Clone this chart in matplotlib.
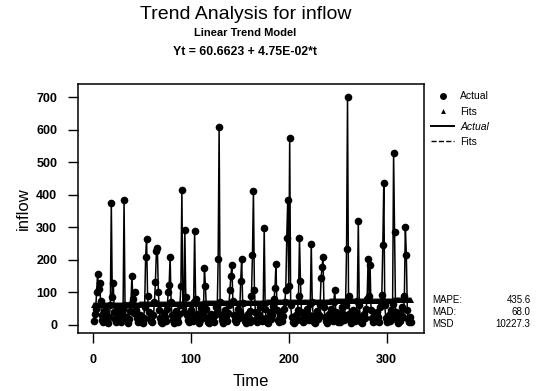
import numpy as np
import matplotlib.pyplot as plt
from matplotlib.lines import Line2D

# =====================================================
# Data (monthly inflow)
# =====================================================

inflow = [
    12, 35, 48, 100, 158, 110, 128, 75, 30, 15,
    8, 20, 45, 30, 12, 6, 25, 60, 374, 85,
    128, 40, 18, 10, 22, 50, 35, 14, 8, 30,
    50, 384, 60, 25, 12, 5, 18, 42, 65, 152,
    80, 38, 101, 45, 20, 9, 15, 32, 28, 10,
    6, 22, 55, 210, 263, 90, 40, 18, 12, 25,
    8, 30, 70, 132, 228, 235, 100, 45, 20, 10,
    5, 15, 38, 25, 12, 48, 100, 122, 209, 70,
    30, 14, 7, 20, 42, 18, 10, 35, 60, 120,
    415, 60, 40, 293, 85, 30, 15, 8, 22, 45,
    28, 12, 70, 290, 80, 35, 18, 6, 14, 30,
    52, 20, 40, 175, 121, 48, 22, 10, 5, 18,
    35, 25, 12, 8, 30, 55, 40, 202, 608, 70,
    32, 15, 6, 20, 45, 28, 12, 38, 60, 109,
    149, 183, 75, 30, 14, 8, 25, 50, 22, 40,
    135, 204, 68, 25, 12, 5, 18, 35, 20, 10,
    42, 90, 216, 412, 108, 40, 18, 8, 15, 30,
    55, 22, 12, 65, 299, 48, 20, 10, 6, 25,
    40, 18, 30, 58, 80, 113, 188, 45, 15, 8,
    22, 35, 12, 28, 50, 70, 109, 268, 384, 120,
    575, 60, 25, 10, 5, 18, 32, 14, 45, 90,
    268, 134, 40, 18, 8, 12, 30, 22, 50, 35,
    15, 65, 250, 70, 28, 10, 5, 20, 42, 18,
    30, 60, 144, 178, 209, 55, 25, 12, 6, 15,
    35, 20, 48, 30, 12, 70, 109, 40, 18, 8,
    22, 10, 38, 55, 25, 14, 30, 62, 232, 700,
    90, 35, 15, 6, 20, 45, 28, 12, 40, 75,
    319, 60, 25, 10, 5, 18, 35, 22, 50, 80,
    202, 90, 185, 45, 20, 8, 15, 30, 12, 40,
    25, 10, 55, 70, 93, 245, 436, 60, 22, 8,
    15, 32, 12, 45, 28, 65, 528, 286, 40, 15,
    6, 20, 38, 12, 30, 55, 25, 90, 302, 216,
    45, 18, 8, 25, 10,
]

intercept = 60.6623
slope = 4.75e-02

stat_names = ['MAPE:', 'MAD:', 'MSD']
stat_values = ['435.6', '68.0', '10227.3']

x_ticks = [0, 100, 200, 300]
y_ticks = [0, 100, 200, 300, 400, 500, 600, 700]

t = np.arange(1, len(inflow) + 1)
fits = intercept + slope * t

# =====================================================
# Plot
# =====================================================

plt.rcParams['font.family'] = ['Liberation Sans', 'DejaVu Sans']

fig = plt.figure(figsize=(5.36, 3.91), dpi=100)
ax = fig.add_axes([0.1455, 0.148, 0.6455, 0.637])

ax.plot(t, inflow, color='black', linewidth=1.1,
        marker='o', markersize=5.5, markeredgewidth=0)
ax.plot(t, fits, color='black', linewidth=2.4, linestyle=(0, (4, 1)),
        marker='^', markersize=4.5, markeredgewidth=0)

ax.set_xlim(-15, 338)
ax.set_ylim(-25, 740)
ax.set_xticks(x_ticks)
ax.set_yticks(y_ticks)

ax.tick_params(direction='out', length=7, width=1.0,
               labelsize=9, pad=8)
for lab in ax.get_xticklabels() + ax.get_yticklabels():
    lab.set_fontweight('bold')

for sp in ax.spines.values():
    sp.set_linewidth(1.1)

ax.set_xlabel('Time', fontsize=12, labelpad=6)
ax.set_ylabel('inflow', fontsize=12, labelpad=4)

# titles
fig.text(0.458, 0.962, 'Trend Analysis for inflow',
         ha='center', va='center', fontsize=14)
fig.text(0.458, 0.916, 'Linear Trend Model',
         ha='center', va='center', fontsize=8, fontweight='bold')
fig.text(0.458, 0.867, 'Yt = 60.6623 + 4.75E-02*t',
         ha='center', va='center', fontsize=8.8, fontweight='bold')

# legend
handles = [
    Line2D([], [], color='black', marker='o', markersize=5,
           linestyle='none', markeredgewidth=0),
    Line2D([], [], color='black', marker='^', markersize=3.5,
           linestyle='none', markeredgewidth=0),
    Line2D([], [], color='black', linewidth=1.4),
    Line2D([], [], color='black', linewidth=1.0, linestyle='--'),
]
leg = ax.legend(handles, ['Actual', 'Fits', 'Actual', 'Fits'],
                loc='upper left', bbox_to_anchor=(1.0, 1.0),
                frameon=False, fontsize=7.5, handlelength=2.2,
                handletextpad=0.6, labelspacing=0.5,
                borderaxespad=0.3)
leg.get_texts()[2].set_fontstyle('italic')

# accuracy measures
for i, (name, val) in enumerate(zip(stat_names, stat_values)):
    y = 0.232 - i * 0.03
    fig.text(0.806, y, name, ha='left', va='center', fontsize=7)
    fig.text(0.99, y, val, ha='right', va='center', fontsize=7)

plt.savefig('out.png', dpi=100)
